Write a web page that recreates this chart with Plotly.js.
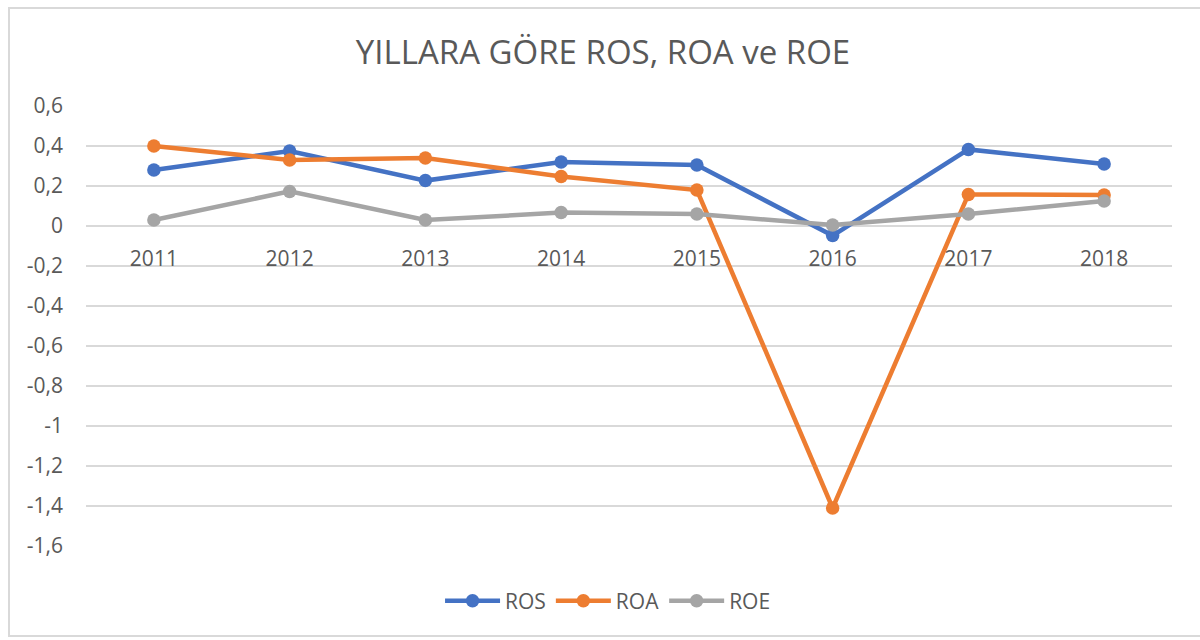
<!DOCTYPE html>
<html>
<head>
<meta charset="utf-8">
<script src="https://cdn.plot.ly/plotly-3.0.1.min.js"></script>
<style>
  html, body { margin: 0; padding: 0; background: #fff; }
  #chart { width: 1200px; height: 640px; position: absolute; left: 0; top: 0; }
  #frame { position: absolute; left: 8px; top: 7px; width: 1200px; height: 630px;
           border-left: 2px solid #d9d9d9; border-top: 2px solid #d9d9d9; border-bottom: 2px solid #d9d9d9;
           pointer-events: none; box-sizing: border-box; }
</style>
</head>
<body>
<div id="chart"></div>
<div id="frame"></div>
<script>
const years = ['2011', '2012', '2013', '2014', '2015', '2016', '2017', '2018'];
const ros = [0.28, 0.375, 0.227, 0.32, 0.305, -0.048, 0.383, 0.31];
const roa = [0.40, 0.33, 0.34, 0.247, 0.18, -1.41, 0.158, 0.155];
const roe = [0.03, 0.173, 0.03, 0.067, 0.06, 0.005, 0.06, 0.125];
const yTicks = [0.6, 0.4, 0.2, 0, -0.2, -0.4, -0.6, -0.8, -1, -1.2, -1.4, -1.6];
const yTickText = ['0,6', '0,4', '0,2', '0', '-0,2', '-0,4', '-0,6', '-0,8', '-1', '-1,2', '-1,4', '-1,6'];

const FONT = 'Open Sans, Liberation Sans, sans-serif';
const TXT = '#595959';

function series(name, vals, color) {
  return {
    x: years, y: vals, name: name, type: 'scatter', mode: 'lines+markers',
    line: { color: color, width: 4.5 },
    marker: { color: color, size: 13.5 }
  };
}

const data = [
  series('ROS', ros, '#4472C4'),
  series('ROA', roa, '#ED7D31'),
  series('ROE', roe, '#A5A5A5')
];

const layout = {
  width: 1200, height: 640,
  margin: { l: 86, r: 28, t: 106, b: 94 },
  paper_bgcolor: 'rgba(0,0,0,0)', plot_bgcolor: '#fff',
  font: { family: FONT, color: TXT, size: 21 },
  title: { text: 'YILLARA GÖRE ROS, ROA ve ROE', font: { family: FONT, size: 33, color: TXT },
           x: 603 / 1200, xanchor: 'center', y: 1 - 52 / 640, yanchor: 'middle',
           xref: 'container', yref: 'container' },
  xaxis: {
    type: 'category', range: [-0.5, years.length - 0.5], anchor: 'free', position: 1.6 / 2.2,
    showgrid: false, showline: false, zeroline: false, ticks: '',
    tickfont: { size: 21, color: TXT, family: FONT }, ticklabelstandoff: 18
  },
  yaxis: {
    range: [-1.6, 0.6], tickvals: yTicks, ticktext: yTickText,
    showgrid: true, gridcolor: '#d9d9d9', gridwidth: 1.5,
    zeroline: true, zerolinecolor: '#d9d9d9', zerolinewidth: 1.5,
    showline: false, ticks: '', ticklabelstandoff: 22,
    tickfont: { size: 21, color: TXT, family: FONT }
  },
  showlegend: true,
  legend: {
    orientation: 'h', x: 0.4807, xanchor: 'center', y: -0.125, yanchor: 'middle',
    font: { size: 21, color: TXT, family: FONT }, itemwidth: 55, traceorder: 'normal'
  }
};

Plotly.newPlot('chart', data, layout, { displayModeBar: false, staticPlot: true });
</script>
</body>
</html>
